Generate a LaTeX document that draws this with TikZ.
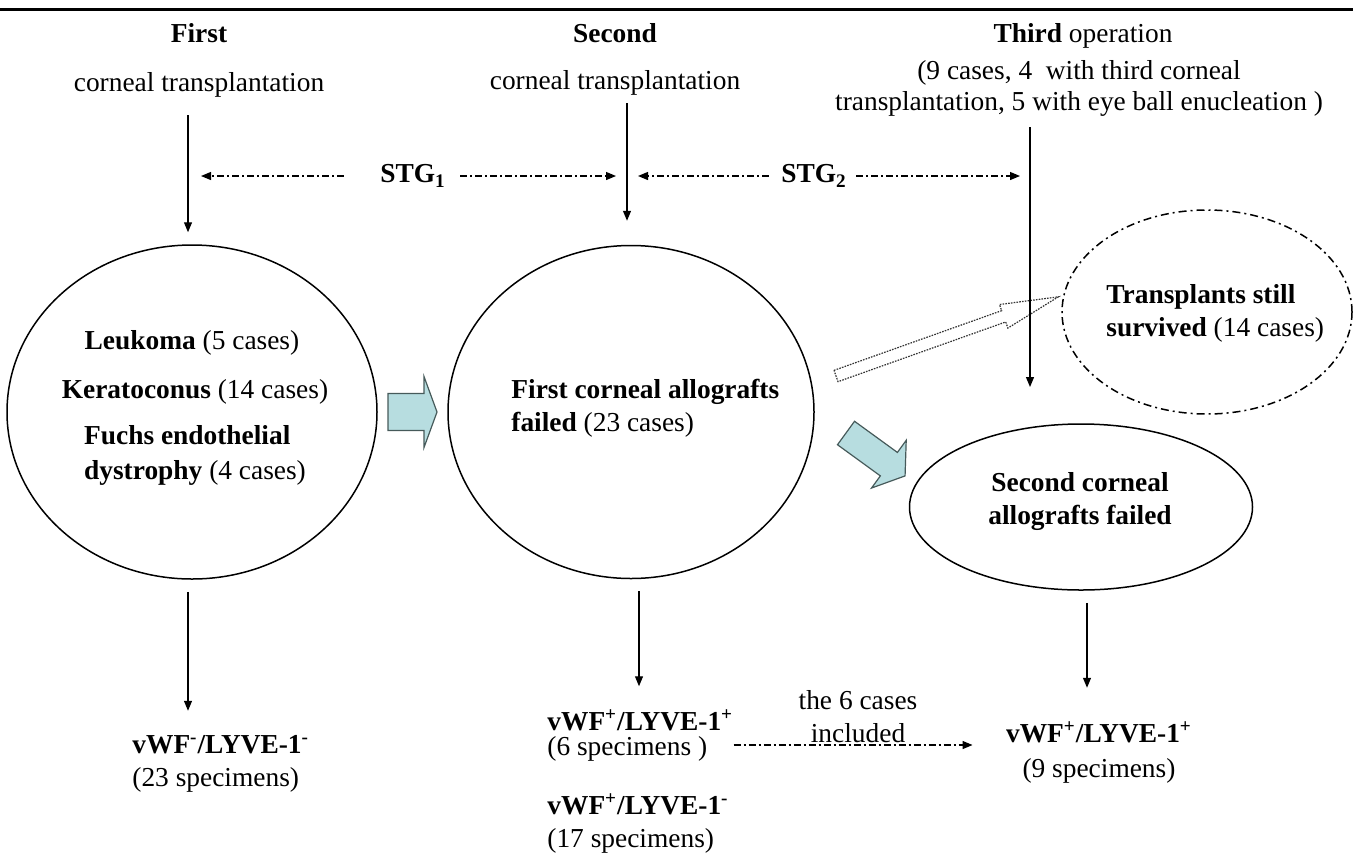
\documentclass[tikz,border=0pt]{standalone}
\usepackage{fontspec}
\setmainfont{Liberation Serif}
\usetikzlibrary{arrows.meta,positioning,shapes.geometric,calc}
\definecolor{arrowblue}{RGB}{183,221,224}
\definecolor{arrowedge}{RGB}{70,90,90}

\begin{document}
\begin{tikzpicture}[x=0.5pt,y=-0.5pt,
    every node/.style={font=\fontsize{13.7}{16.5}\selectfont, inner sep=0pt},
    oval/.style={draw, ellipse, line width=0.75pt, inner sep=0pt},
    arr/.style={-{Triangle[length=5pt,width=4pt]}, line width=0.6pt},
    dasharr/.style={arr, dash pattern=on 3.5pt off 1.5pt on 1pt off 1.5pt},
    bluearr/.style={draw=arrowedge, fill=arrowblue, line width=0.6pt},
    hollowarr/.style={draw=black!80, fill=white, line width=0.6pt, dash pattern=on 0.8pt off 0.6pt}]
    \useasboundingbox (0,0) rectangle (1353,852);
    \draw[line width=1.5pt] (0,9) -- (1353,9);

    % headings
    \node (first) at (199,33) {\textbf{First}};
    \node (firstop) at (199,85) {corneal transplantation};
    \node (second) at (615,33) {\textbf{Second}};
    \node (secondop) at (615,83) {corneal transplantation};
    \node (third) at (1083,36) {\textbf{Third} operation};
    \node[align=center] (thirdop) at (1079,88.5) {(9 cases, 4~ with third corneal\\[-1pt]transplantation, 5 with eye ball enucleation )};

    % ovals
    \node[oval, minimum width=185pt, minimum height=167pt] (e1) at (192,412) {};
    \node[oval, minimum width=183pt, minimum height=166.5pt] (e2) at (631,412) {};
    \node[oval, dash pattern=on 4pt off 2pt on 1pt off 2pt, minimum width=145pt, minimum height=102pt] (e3) at (1207,312) {};
    \node[oval, minimum width=171.5pt, minimum height=83pt] (e4) at (1081,507) {};

    \node (leuk) at (192,343) {\textbf{Leukoma} (5 cases)};
    \node (kera) at (195,392) {\textbf{Keratoconus} (14 cases)};
    \node[align=left] (fuchs) at (195,455.5) {\textbf{Fuchs endothelial}\\[1pt]\textbf{dystrophy} (4 cases)};
    \node[align=left, anchor=west] (fail1) at (511,408.5) {\textbf{First corneal allografts}\\\textbf{failed} (23 cases)};
    \node[align=left, anchor=west] (surv) at (1106,313.5) {\textbf{Transplants still}\\\textbf{survived} (14 cases)};
    \node[align=center] (fail2) at (1080,501.5) {\textbf{Second corneal}\\\textbf{allografts failed}};

    % specimens
    \node[align=left, anchor=west] (neg) at (132,764) {\textbf{vWF\textsuperscript{-}/LYVE-1\textsuperscript{-}}\\(23 specimens)};
    \node[align=left, anchor=west] (pos6) at (547,735.5) {\textbf{vWF\textsuperscript{+}/LYVE-1\textsuperscript{+}}\\[-4pt](6 specimens )};
    \node[align=left, anchor=west] (pos17) at (547,823.5) {\textbf{vWF\textsuperscript{+}/LYVE-1\textsuperscript{-}}\\(17 specimens)};
    \node[align=center] (pos9) at (1099,752.5) {\textbf{vWF\textsuperscript{+}/LYVE-1\textsuperscript{+}}\\[1pt](9 specimens)};
    \node[align=center] (incl) at (858,716.5) {the 6 cases\\included};

    % survival time between grafts
    \node (stg1) at (413,176) {\textbf{STG}\textsubscript{\textbf{1}}};
    \node (stg2) at (814,176) {\textbf{STG}\textsubscript{\textbf{2}}};

    % block arrows
    \begin{scope}[shift={(388,412)}]
        \draw[bluearr] (0,-18.5) -- (36,-18.5) -- (36,-35.5) -- (49,0) -- (36,35.5) -- (36,18.5) -- (0,18.5) -- cycle;
    \end{scope}
    \begin{scope}[shift={(846,433)}, rotate=-36]
        \draw[bluearr] (0,-14.5) -- (53,-14.5) -- (53,-29.5) -- (73,0) -- (53,29.5) -- (53,14.5) -- (0,14.5) -- cycle;
    \end{scope}
    \begin{scope}[shift={(836,376)}, rotate=19.6]
        \draw[hollowarr] (0,-6) -- (178,-6) -- (178,-12.5) -- (236,0) -- (178,12.5) -- (178,6) -- (0,6) -- cycle;
    \end{scope}

    % vertical arrows
    \coordinate (v1) at (188,115);
    \coordinate (v2) at (627,103);
    \coordinate (v3) at (1030,127);
    \draw[arr, shorten >=6pt] (v1) -- (v1 |- e1.north);
    \draw[arr, shorten >=12pt] (v2) -- (v2 |- e2.north);
    \draw[arr] (v3) -- ++(0,260);
    \draw[arr] ($(e1.south -| v1)+(0,12)$) -- ++(0,119);
    \draw[arr] ($(e2.south)+(8,12)$) -- ++(0,95);
    \draw[arr] ($(e4.south)+(6,12)$) -- ++(0,85);

    \draw[dasharr] ([xshift=-18pt]stg1.west) -- ($(v1 |- stg1)+(13,0)$);
    \draw[dasharr] ([xshift=7pt]stg1.east) -- ($(v2 |- stg1)+(-11,0)$);
    \draw[dasharr] ([xshift=-6pt]stg2.west) -- ($(v2 |- stg2)+(11,0)$);
    \draw[dasharr] ([xshift=4.5pt]stg2.east) -- ($(v3 |- stg2)+(-10,0)$);
    \draw[dasharr] ($(pos6.east)+(0,9.5)$) -- ++(239,0);
\end{tikzpicture}
\end{document}
